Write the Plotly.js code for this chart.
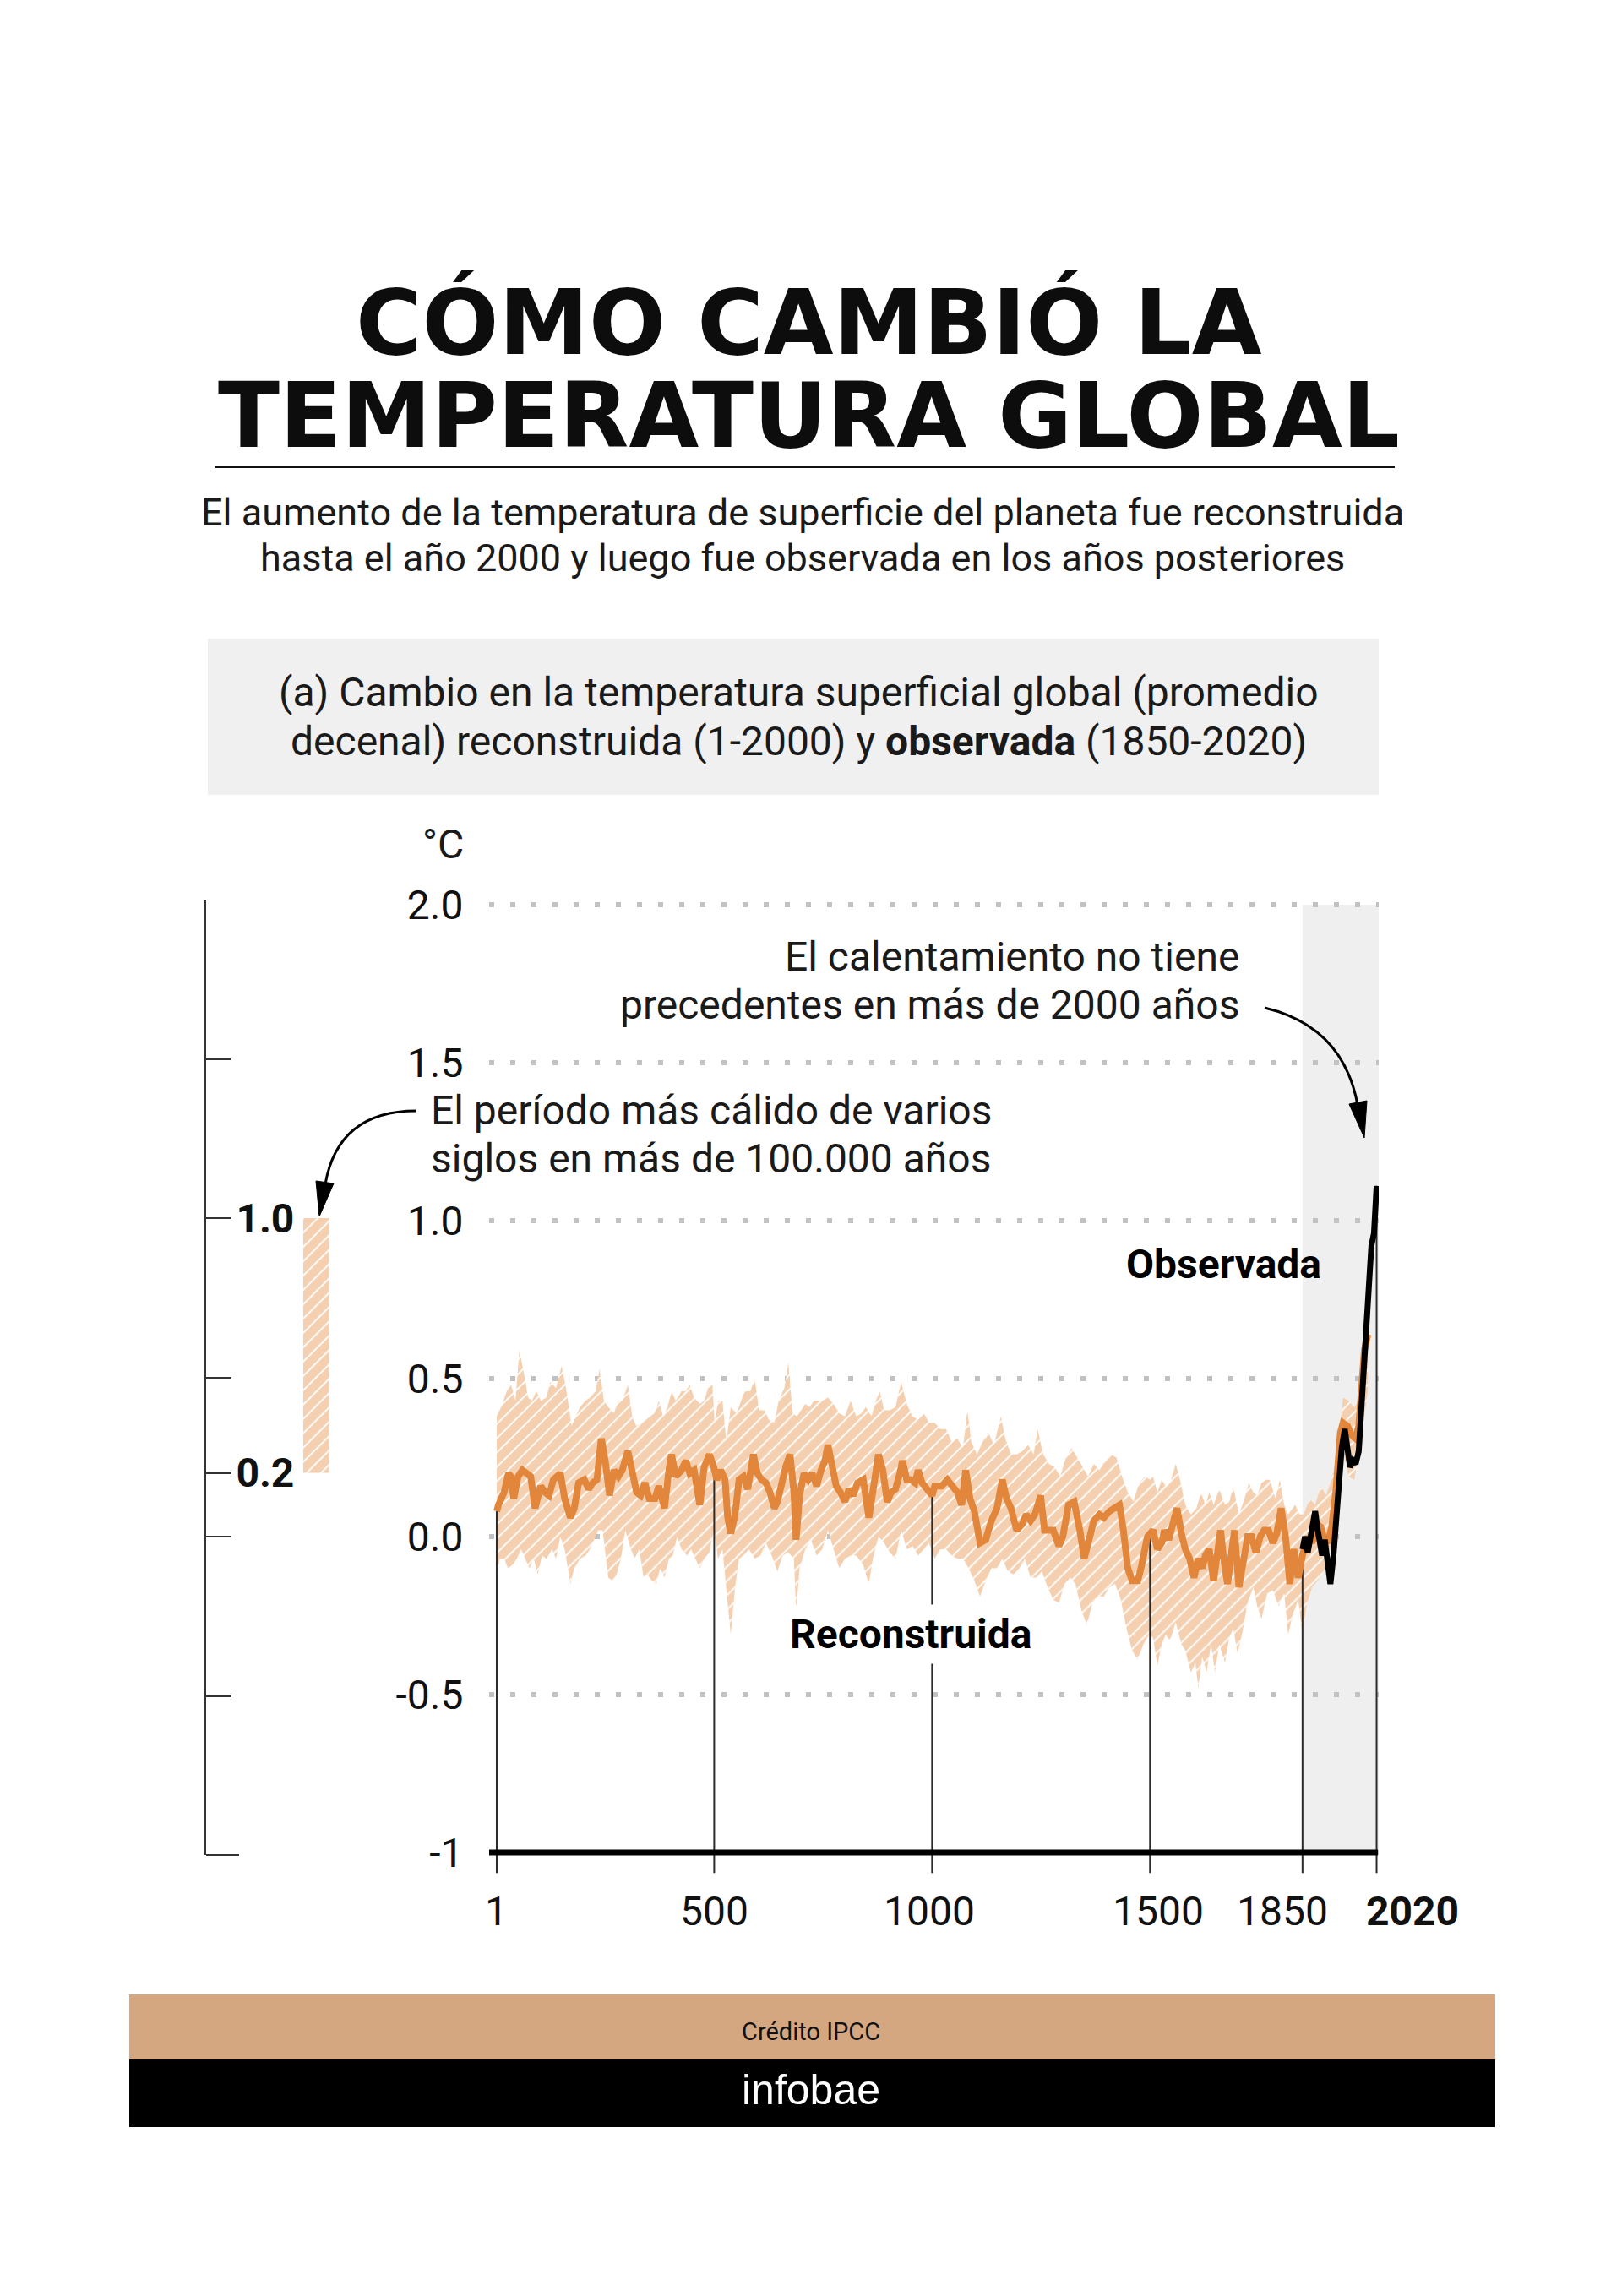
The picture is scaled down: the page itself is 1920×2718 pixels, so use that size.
<!DOCTYPE html>
<html>
<head>
<meta charset="utf-8">
<script src="https://cdn.plot.ly/plotly-3.0.1.min.js"></script>
<style>
html,body{margin:0;padding:0;background:#ffffff;}
#chart{width:1920px;height:2718px;}
</style>
</head>
<body>
<div id="chart"></div>
<script>
// ---------------- DATA ----------------
// Reconstructed decadal global surface temperature change (°C), years 1-2000
const reconYear = [1,5,18,28,34,40,50,60,70,79,89,102,112,121,131,147,157,170,179,189,202,212,221,231,241,250,260,270,280,289,302,312,322,331,341,351,364,373,386,396,402,412,425,435,444,454,467,477,489,499,
506,515,525,531,538,548,557,567,577,590,599,609,619,628,638,645,654,664,674,683,688,696,706,716,725,735,745,754,761,771,780,790,800,809,819,829,842,855,864,877,887,897,906,916,926,932,942,951,961,968,977,987,1000,
1006,1022,1035,1045,1058,1068,1077,1087,1097,1110,1123,1136,1149,1161,1171,1181,1194,1207,1216,1226,1236,1249,1258,1268,1278,1291,1300,1313,1326,1339,1349,1362,1371,1384,1394,1407,1420,1430,1439,1449,1459,1472,1481,1494,
1507,1517,1527,1533,1543,1552,1562,1572,1581,1591,1601,1611,1620,1627,1636,1646,1656,1662,1669,1678,1688,1694,1704,1714,1724,1733,1743,1753,1762,1772,1782,1791,1801,1811,1821,1830,1840,1850,1862,1872,1882,1892,1898,1908,1917,1927,1937,1943,1953,1963,1972,1979,1985,1992,2000];
const reconTemp = [0.08,0.10,0.14,0.20,0.19,0.12,0.19,0.21,0.20,0.19,0.09,0.16,0.14,0.13,0.18,0.20,0.12,0.06,0.09,0.17,0.18,0.15,0.17,0.18,0.31,0.24,0.13,0.21,0.19,0.21,0.27,0.21,0.14,0.13,0.17,0.12,0.12,0.16,0.09,0.21,0.26,0.19,0.21,0.24,0.20,0.21,0.10,0.22,0.26,0.22,
0.18,0.21,0.18,0.06,0.01,0.07,0.18,0.19,0.15,0.26,0.20,0.18,0.17,0.14,0.09,0.11,0.17,0.22,0.26,0.14,-0.01,0.13,0.20,0.18,0.20,0.16,0.21,0.24,0.29,0.23,0.16,0.14,0.11,0.15,0.13,0.17,0.18,0.06,0.14,0.26,0.21,0.11,0.14,0.15,0.20,0.24,0.18,0.18,0.17,0.21,0.17,0.15,0.13,
0.16,0.16,0.18,0.16,0.14,0.10,0.21,0.12,0.08,-0.02,-0.01,0.05,0.09,0.18,0.12,0.09,0.02,0.04,0.07,0.05,0.07,0.13,0.02,0.02,0.02,-0.03,0.00,0.10,0.11,0.02,-0.07,0.00,0.05,0.07,0.06,0.08,0.09,0.10,0.02,-0.10,-0.14,-0.14,-0.09,0.00,
0.02,-0.04,-0.02,0.02,-0.01,0.03,0.09,0.01,-0.04,-0.07,-0.13,-0.07,-0.10,-0.06,-0.04,-0.14,-0.02,0.02,-0.07,-0.15,-0.04,0.02,-0.16,-0.07,0.00,0.00,-0.05,0.00,0.02,0.02,-0.02,0.01,0.09,0.00,-0.15,-0.04,-0.13,-0.06,0.00,-0.02,0.04,0.03,0.00,-0.02,0.03,0.15,0.33,0.36,0.35,0.32,0.31,0.35,0.46,0.59,0.64];

// Upper edge of the reconstruction's very likely range
const upperYear = [1,11,24,34,44,53,63,73,82,92,102,115,124,137,150,160,173,183,192,205,215,228,237,247,257,270,280,289,302,312,321,334,344,354,363,373,383,393,402,412,425,434,444,454,467,477,486,496,501,
509,519,528,538,551,561,570,583,593,603,616,625,638,648,661,670,680,690,699,709,719,729,738,748,761,774,787,800,813,826,838,848,861,871,880,890,903,916,929,942,955,968,981,993,
1006,1019,1032,1045,1058,1071,1081,1090,1103,1116,1129,1142,1158,1168,1181,1194,1207,1220,1233,1242,1255,1268,1281,1294,1307,1320,1333,1346,1358,1371,1384,1397,1410,1423,1436,1449,1462,1475,1488,1501,
1507,1517,1527,1536,1546,1559,1569,1581,1594,1607,1617,1627,1636,1646,1659,1672,1682,1691,1704,1717,1727,1737,1746,1756,1766,1775,1788,1798,1808,1817,1827,1833,1843,1853,1866,1879,1892,1904,1917,1930,1943,1956,1969,1979,1988,2000];
const upperTemp = [0.38,0.41,0.46,0.48,0.43,0.59,0.52,0.44,0.43,0.46,0.43,0.44,0.49,0.47,0.54,0.47,0.35,0.38,0.41,0.43,0.44,0.46,0.53,0.43,0.41,0.39,0.43,0.43,0.48,0.38,0.35,0.36,0.37,0.38,0.39,0.43,0.38,0.41,0.46,0.43,0.46,0.46,0.48,0.44,0.42,0.43,0.47,0.48,0.36,
0.43,0.43,0.30,0.41,0.39,0.43,0.46,0.46,0.50,0.40,0.40,0.37,0.36,0.43,0.47,0.55,0.39,0.38,0.40,0.42,0.41,0.43,0.43,0.43,0.44,0.42,0.39,0.38,0.43,0.38,0.39,0.41,0.38,0.43,0.46,0.40,0.40,0.41,0.49,0.42,0.38,0.37,0.39,0.36,
0.36,0.34,0.34,0.30,0.31,0.28,0.40,0.30,0.26,0.30,0.33,0.29,0.38,0.31,0.26,0.26,0.27,0.29,0.26,0.34,0.26,0.23,0.22,0.19,0.25,0.28,0.25,0.22,0.19,0.23,0.21,0.24,0.26,0.25,0.19,0.14,0.11,0.17,0.19,0.18,
0.19,0.14,0.18,0.16,0.17,0.23,0.18,0.10,0.07,0.09,0.14,0.10,0.14,0.10,0.15,0.10,0.11,0.16,0.07,0.12,0.17,0.14,0.13,0.17,0.18,0.18,0.12,0.18,0.10,0.07,0.09,0.10,0.07,0.07,0.12,0.10,0.16,0.13,0.18,0.26,0.44,0.43,0.41,0.43,0.60,0.70];

// Lower edge of the reconstruction's very likely range
const lowerYear = [1,8,18,27,37,47,57,66,76,86,95,105,115,128,137,147,157,170,179,192,205,215,225,234,244,257,267,276,286,296,309,318,328,338,347,357,367,376,386,396,405,415,425,438,447,457,467,477,489,499,
509,519,528,538,548,557,567,580,593,606,619,632,645,657,670,683,688,696,709,722,735,748,761,774,787,800,813,826,842,855,864,877,890,903,916,929,942,955,968,981,993,
1006,1019,1032,1045,1058,1071,1084,1097,1110,1123,1136,1149,1161,1174,1187,1200,1213,1226,1239,1252,1265,1278,1291,1304,1317,1329,1342,1355,1368,1381,1394,1407,1420,1433,1446,1459,1472,1485,1498,
1507,1517,1527,1536,1546,1559,1572,1581,1594,1604,1611,1620,1630,1640,1649,1659,1672,1682,1691,1701,1711,1724,1737,1746,1756,1769,1782,1795,1808,1817,1827,1840,1850,1859,1872,1885,1895,1904,1917,1930,1943,1956,1969,1979,1988,2000];
const lowerTemp = [-0.12,-0.07,-0.07,-0.10,-0.09,-0.07,-0.04,-0.07,-0.10,-0.07,-0.12,-0.06,-0.07,-0.04,-0.07,0.00,-0.04,-0.15,-0.10,-0.07,-0.06,-0.04,-0.01,0.02,0.02,-0.13,-0.14,-0.12,-0.07,0.02,-0.04,-0.07,-0.04,-0.13,-0.12,-0.14,-0.15,-0.10,-0.13,-0.07,-0.06,0.00,-0.04,-0.06,-0.04,-0.07,-0.10,-0.07,-0.05,0.02,
-0.07,-0.04,-0.16,-0.31,-0.16,-0.07,-0.06,-0.04,-0.07,-0.06,-0.02,-0.06,-0.11,-0.06,-0.05,-0.07,-0.24,-0.10,-0.04,-0.01,-0.06,-0.04,0.02,-0.04,-0.10,-0.07,-0.06,-0.06,-0.09,-0.15,-0.07,0.00,-0.02,-0.05,-0.07,0.02,-0.04,-0.03,-0.06,-0.04,-0.02,
-0.07,-0.04,-0.04,-0.06,-0.07,-0.07,-0.10,-0.14,-0.19,-0.14,-0.10,-0.10,-0.07,-0.11,-0.12,-0.10,-0.07,-0.13,-0.13,-0.11,-0.16,-0.20,-0.21,-0.15,-0.13,-0.15,-0.23,-0.28,-0.21,-0.19,-0.19,-0.16,-0.15,-0.20,-0.29,-0.36,-0.39,-0.34,-0.31,
-0.32,-0.41,-0.34,-0.31,-0.33,-0.27,-0.34,-0.36,-0.43,-0.40,-0.48,-0.38,-0.43,-0.34,-0.43,-0.34,-0.40,-0.32,-0.29,-0.37,-0.31,-0.21,-0.16,-0.22,-0.26,-0.18,-0.17,-0.22,-0.18,-0.31,-0.25,-0.20,-0.31,-0.22,-0.16,-0.14,-0.12,-0.09,-0.02,0.10,0.27,0.19,0.18,0.28,0.35,0.46];

// Observed decadal global surface temperature change (°C), 1850-2020
const obsYear = [1850,1856,1862,1870,1879,1885,1895,1901,1908,1914,1921,1930,1940,1947,1953,1959,1966,1972,1979,1988,1998,2008,2014,2020];
const obsTemp = [-0.04,0.00,-0.05,0.01,0.08,0.02,-0.06,-0.01,-0.07,-0.15,-0.06,0.10,0.28,0.34,0.28,0.22,0.24,0.23,0.27,0.46,0.70,0.92,0.96,1.11];

// Warmest multi-century period in more than 100,000 years (°C range)
const warmLow = 0.2;
const warmHigh = 1.0;

// Axis ticks
const xTickVals = [1, 500, 1000, 1500, 1850, 2020];
const xTickText = ['1', '500', '1000', '1500', '1850', '<b>2020</b>'];
const yTickVals = [-1, -0.5, 0, 0.5, 1, 1.5, 2];
const yTickText = ['-1', '-0.5', '0.0', '0.5', '1.0', '1.5', '2.0'];
const leftTickVals = [-1, -0.5, 0, 0.2, 0.5, 1, 1.5, 2];
const leftTickText = ['', '', '', '0.2', '', '1.0', '', ''];

// ---------------- LAYOUT HELPERS ----------------
const W = 1920, H = 2718;
const X = px => px / W;
const Y = py => 1 - py / H;
const P = (px, py) => X(px).toFixed(5) + ',' + Y(py).toFixed(5);
const FONT = "Roboto, 'Noto Sans', 'Liberation Sans', Arial, sans-serif";
const ORANGE = '#e1863a';
const BAND = '#f5d0b0';
const TEXT = '#1a1a1a';

function interp(xs, ys, x) {
  if (x <= xs[0]) return ys[0];
  if (x >= xs[xs.length - 1]) return ys[ys.length - 1];
  for (let i = 1; i < xs.length; i++) {
    if (x <= xs[i]) {
      const t = (x - xs[i - 1]) / (xs[i] - xs[i - 1]);
      return ys[i - 1] + t * (ys[i] - ys[i - 1]);
    }
  }
}

// vertical reference lines from the curve down below the axis
const tickLineBottom = -1.065;
const vx = [], vy = [];
xTickVals.forEach(yr => {
  const top = yr >= obsYear[0] ? interp(obsYear, obsTemp, yr) : interp(reconYear, reconTemp, yr);
  vx.push(yr, yr, null);
  vy.push(top, tickLineBottom, null);
});

const bandX = upperYear.concat(lowerYear.slice().reverse());
const bandY = upperTemp.concat(lowerTemp.slice().reverse());

const traces = [
  {
    type: 'scatter', x: bandX, y: bandY, mode: 'lines',
    line: {width: 0, color: 'rgba(0,0,0,0)'},
    fill: 'toself', fillcolor: BAND,
    fillpattern: {shape: '/', bgcolor: BAND, fgcolor: '#ffffff', size: 12, solidity: 0.16},
    hoverinfo: 'skip', xaxis: 'x', yaxis: 'y'
  },
  {
    type: 'scatter', x: vx, y: vy, mode: 'lines',
    line: {color: '#2b2b2b', width: 2}, hoverinfo: 'skip', xaxis: 'x', yaxis: 'y'
  },
  {
    type: 'scatter', x: reconYear, y: reconTemp, mode: 'lines',
    line: {color: ORANGE, width: 8, shape: 'linear'}, name: 'Reconstruida', xaxis: 'x', yaxis: 'y'
  },
  {
    type: 'scatter', x: obsYear, y: obsTemp, mode: 'lines',
    line: {color: '#000000', width: 7}, name: 'Observada', xaxis: 'x', yaxis: 'y'
  },
  {
    type: 'bar', x: [0], base: [warmLow], y: [warmHigh - warmLow], width: [1],
    marker: {color: BAND, line: {width: 0},
      pattern: {shape: '/', bgcolor: BAND, fgcolor: '#ffffff', size: 12, solidity: 0.16}},
    hoverinfo: 'skip', xaxis: 'x2', yaxis: 'y2'
  }
];

function T(text, px, py, size, opts) {
  opts = opts || {};
  return {
    text: text, xref: 'paper', yref: 'paper', x: X(px), y: Y(py),
    xanchor: opts.xanchor || 'center', yanchor: 'middle', showarrow: false,
    bgcolor: opts.bgcolor || 'rgba(0,0,0,0)', borderpad: opts.borderpad || 0,
    font: {family: opts.family || FONT, size: size, color: opts.color || TEXT, weight: opts.weight || 'normal'}
  };
}

const xLabelShift = [0, 0, -3, 10, -24, 42];

const annotations = [
  T('CÓMO CAMBIÓ LA', 957, 382, 107, {family: "'DejaVu Sans', sans-serif", weight: 'bold', color: '#0d0d0d'}),
  T('TEMPERATURA GLOBAL', 957, 492, 107, {family: "'DejaVu Sans', sans-serif", weight: 'bold', color: '#0d0d0d'}),
  T('El aumento de la temperatura de superficie del planeta fue reconstruida', 950, 606, 45),
  T('hasta el año 2000 y luego fue observada en los años posteriores', 950, 660, 45),
  T('(a) Cambio en la temperatura superficial global (promedio', 945, 819, 48),
  T('decenal) reconstruida (1-2000) y <b>observada</b> (1850-2020)', 945, 877, 48),
  T('°C', 524, 1000, 48),
  T('El calentamiento no tiene', 1468, 1133, 48, {xanchor: 'right'}),
  T('precedentes en más de 2000 años', 1468, 1190, 48, {xanchor: 'right'}),
  T('El período más cálido de varios', 509, 1314, 48, {xanchor: 'left'}),
  T('siglos en más de 100.000 años', 509, 1371, 48, {xanchor: 'left'}),
  T('Observada', 1565, 1496, 48, {xanchor: 'right', weight: 'bold', color: '#000'}),
  T('Reconstruida', 1078, 1934, 48, {weight: 'bold', color: '#000', bgcolor: '#ffffff', borderpad: 6}),
  T('Crédito IPCC', 960, 2405, 29, {color: '#111'}),
  T('infobae', 960, 2474, 50, {family: "'Liberation Sans', Arial, sans-serif", color: '#ffffff'})
];
xTickVals.forEach((v, i) => {
  annotations.push({
    text: xTickText[i], xref: 'x', yref: 'paper', x: v, y: Y(2262),
    xanchor: 'center', yanchor: 'middle', xshift: xLabelShift[i], showarrow: false,
    font: {family: FONT, size: 48, color: '#111'}
  });
});

const shapes = [
  // grey header box behind panel caption
  {type: 'rect', xref: 'paper', yref: 'paper', x0: X(246), x1: X(1632), y0: Y(941), y1: Y(756),
   fillcolor: '#f0f0f0', line: {width: 0}, layer: 'below'},
  // rule under title
  {type: 'line', xref: 'paper', yref: 'paper', x0: X(255), x1: X(1651), y0: Y(553), y1: Y(553),
   line: {color: '#111111', width: 2}},
  // observed-period shading
  {type: 'rect', xref: 'x', yref: 'y', x0: 1850, x1: 2024.8, y0: -1, y1: 2,
   fillcolor: '#efefef', line: {width: 0}, layer: 'below'},
  // heavy baseline at -1
  {type: 'line', xref: 'paper', yref: 'y', x0: X(579), x1: X(1631), y0: -1, y1: -1,
   line: {color: '#000000', width: 7}},
  // longer bottom tick of the left scale
  {type: 'line', xref: 'paper', yref: 'paper', x0: X(244), x1: X(283), y0: Y(2196), y1: Y(2196),
   line: {color: '#333333', width: 2}},
  // curved arrow (right)
  {type: 'path', xref: 'paper', yref: 'paper',
   path: 'M' + P(1497, 1193) + ' Q' + P(1590, 1215) + ' ' + P(1607, 1308),
   line: {color: '#000', width: 3}},
  {type: 'path', xref: 'paper', yref: 'paper',
   path: 'M' + P(1615, 1347) + ' L' + P(1618, 1303) + ' L' + P(1597, 1307) + ' Z',
   fillcolor: '#000', line: {color: '#000', width: 1}},
  // curved arrow (left)
  {type: 'path', xref: 'paper', yref: 'paper',
   path: 'M' + P(493, 1315) + ' Q' + P(400, 1315) + ' ' + P(385, 1402),
   line: {color: '#000', width: 3}},
  {type: 'path', xref: 'paper', yref: 'paper',
   path: 'M' + P(378, 1440) + ' L' + P(395, 1401) + ' L' + P(374, 1398) + ' Z',
   fillcolor: '#000', line: {color: '#000', width: 1}},
  // footer bands
  {type: 'rect', xref: 'paper', yref: 'paper', x0: X(153), x1: X(1770), y0: Y(2438), y1: Y(2361),
   fillcolor: '#d4a781', line: {width: 0}, layer: 'below'},
  {type: 'rect', xref: 'paper', yref: 'paper', x0: X(153), x1: X(1770), y0: Y(2518), y1: Y(2438),
   fillcolor: '#000000', line: {width: 0}, layer: 'below'}
];

const layout = {
  width: W, height: H,
  margin: {l: 0, r: 0, t: 0, b: 0, pad: 0},
  paper_bgcolor: '#ffffff', plot_bgcolor: 'rgba(0,0,0,0)',
  showlegend: false,
  font: {family: FONT, color: TEXT},
  xaxis: {
    domain: [X(579), X(1632)], range: [-16.4, 2024.8], anchor: 'y',
    showgrid: false, zeroline: false, showticklabels: false, showline: false, ticks: ''
  },
  yaxis: {
    domain: [Y(2240), Y(1050)], range: [-1.1257, 2.0561], anchor: 'x',
    tickmode: 'array', tickvals: yTickVals, ticktext: yTickText,
    tickfont: {family: FONT, size: 48, color: '#111'},
    ticks: 'outside', ticklen: 20, tickcolor: 'rgba(0,0,0,0)',
    showgrid: true, gridcolor: '#c2c2c2', gridwidth: 6, griddash: '6px,19px',
    zeroline: false, showline: false
  },
  xaxis2: {
    domain: [X(244), X(420)], range: [-4.21, 1.47], anchor: 'y2',
    showgrid: false, zeroline: false, showticklabels: false, showline: false, ticks: ''
  },
  yaxis2: {
    domain: [Y(2196), Y(1065)], range: [-1, 2], anchor: 'x2',
    showline: true, linecolor: '#333333', linewidth: 2,
    ticks: 'inside', ticklen: 30, tickwidth: 2, tickcolor: '#333333',
    tickmode: 'array', tickvals: leftTickVals, ticktext: leftTickText,
    ticklabelposition: 'inside', ticklabeloverflow: 'allow', ticklabelstandoff: 12,
    tickfont: {family: FONT, size: 48, color: '#111', weight: 'bold'},
    showgrid: false, zeroline: false
  },
  shapes: shapes,
  annotations: annotations
};

Plotly.newPlot('chart', traces, layout, {displayModeBar: false, staticPlot: true});
</script>
</body>
</html>
